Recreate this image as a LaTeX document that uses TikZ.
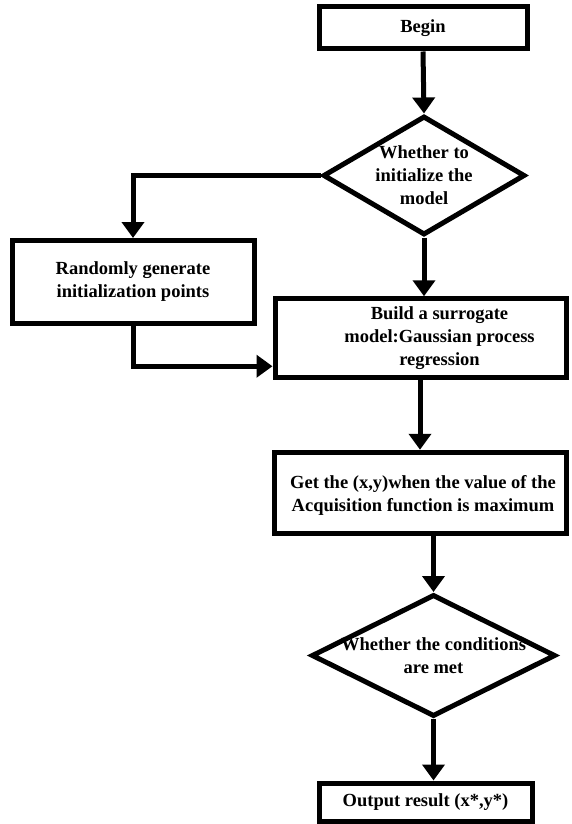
\documentclass[tikz,border=0pt]{standalone}
\usepackage{fontspec}
\setmainfont{Liberation Serif}
\usetikzlibrary{shapes.geometric,arrows.meta}
\begin{document}
\begin{tikzpicture}[x=1pt,y=-1pt,
  every node/.style={font=\bfseries\fontsize{18.5}{23}\selectfont},
  box/.style={draw, line width=5pt, rectangle, inner sep=0pt, fill=white},
  decision/.style={draw, line width=5pt, diamond, inner sep=0pt, fill=white},
  txt/.style={align=center, inner sep=0pt},
  arr/.style={line width=5pt, -{Triangle[length=16pt,width=22pt]}}]
\useasboundingbox (0,0) rectangle (571,824);

% process boxes and decisions
\node[box, minimum width=208pt, minimum height=42pt,
      label={[txt]center:Begin}] (begin) at (423,28) {};
\node[decision, minimum width=202pt, minimum height=119pt,
      label={[txt]center:Whether to\\initialize the\\model}] (d1) at (424,175.5) {};
\node[box, minimum width=242pt, minimum height=83pt,
      label={[txt]center:Randomly generate\\initialization points}] (random) at (133,282) {};
\node[box, minimum width=291pt, minimum height=78.5pt,
      label={[txt, xshift=19pt]center:Build a surrogate\\model:Gaussian process\\regression}] (build) at (420.5,338) {};
\node[box, minimum width=292pt, minimum height=81.5pt,
      label={[txt, xshift=3pt, yshift=-2pt]center:Get the (x,y)when the value of the\\Acquisition function is maximum}] (get) at (420,493) {};
\node[decision, minimum width=244pt, minimum height=122pt,
      label={[txt]center:Whether the conditions\\are met}] (d2) at (433.5,655.5) {};
\node[box, minimum width=213pt, minimum height=38pt,
      label={[txt]center:Output result (x*,y*)}] (out) at (425.5,802) {};

% connectors
\draw[arr] (begin.south) -- (d1.north);
\draw[arr] (d1.west) -| (random.north);
\draw[arr] (d1.south) -- (d1.south |- build.north);
\draw[arr] (random.south) |- ([yshift=13.5pt]build.south west);
\draw[arr] (build.south -| get.north) -- (get.north);
\draw[arr] (get.south -| d2.north) -- (d2.north);
\draw[arr] (d2.south) -- (d2.south |- out.north);
\end{tikzpicture}
\end{document}
